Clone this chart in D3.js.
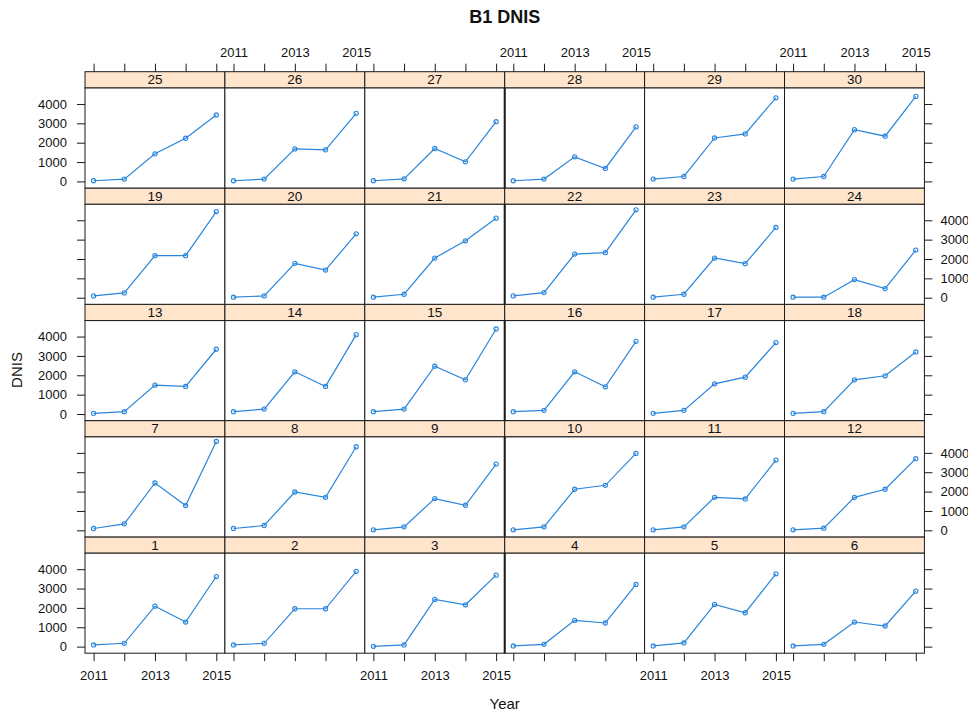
<!DOCTYPE html>
<html>
<head>
<meta charset="utf-8">
<script src="https://cdn.jsdelivr.net/npm/d3@7"></script>
<style>
  body { margin: 0; background: #fff; }
  svg { display: block; }
</style>
</head>
<body>
<svg id="chart" width="968" height="715"></svg>
<script>
// ---- data ----------------------------------------------------------------
const panelIds = d3.range(1, 31);                 // conditioning levels 1..30
const years = [2011, 2012, 2013, 2014, 2015];

// DNIS per panel, one row per level (same order as panelIds)
const dnis = [
  [86, 172, 2090, 1270, 3620],   // 1
  [86, 172, 1955, 1955, 3890],   // 2
  [17, 86, 2440, 2160, 3690],    // 3
  [34, 120, 1355, 1220, 3210],   // 4
  [34, 190, 2180, 1750, 3760],   // 5
  [34, 120, 1270, 1065, 2865],   // 6
  [94, 335, 2445, 1280, 4590],   // 7
  [94, 250, 1980, 1705, 4315],   // 8
  [26, 180, 1640, 1295, 3420],   // 9
  [26, 180, 2120, 2325, 3970],   // 10
  [26, 180, 1705, 1620, 3630],   // 11
  [26, 110, 1705, 2120, 3700],   // 12
  [34, 120, 1490, 1425, 3345],   // 13
  [120, 255, 2180, 1425, 4100],  // 14
  [120, 255, 2470, 1765, 4390],  // 15
  [120, 190, 2180, 1405, 3755],  // 16
  [34, 190, 1560, 1905, 3690],   // 17
  [34, 120, 1765, 1975, 3205],   // 18
  [94, 250, 2170, 2170, 4450],   // 19
  [26, 94, 1775, 1430, 3300],    // 20
  [26, 180, 2050, 2940, 4110],   // 21
  [94, 265, 2255, 2325, 4540],   // 22
  [26, 180, 2050, 1760, 3630],   // 23
  [26, 26, 935, 470, 2460],      // 24
  [34, 120, 1425, 2230, 3430],   // 25
  [34, 120, 1680, 1630, 3515],   // 26
  [34, 135, 1700, 1010, 3085],   // 27
  [34, 120, 1270, 670, 2815],    // 28
  [120, 255, 2245, 2455, 4320],  // 29
  [120, 255, 2675, 2335, 4390]   // 30
];

const yTicks = [0, 1000, 2000, 3000, 4000];
const xTicks = years;
const xTickLabels = ["2011", "", "2013", "", "2015"];

const titleText = "B1 DNIS";
const xLabelText = "Year";
const yLabelText = "DNIS";

// ---- layout --------------------------------------------------------------
const W = 968, H = 715;
const nCols = 6, nRows = 5;
const gridLeft = 85, gridTop = 71.7;
const panelW = 139.9;
const rowH = 116.3;
const stripH = 16.3;
const panelH = rowH - stripH;
const font = "'Liberation Sans', Arial, Helvetica, sans-serif";
const lineCol = "#2a86dc";
const stripCol = "#ffe5cc";
const frameCol = "#1a1a1a";
const tickLen = 8;

const svg = d3.select("#chart");
svg.append("rect").attr("width", W).attr("height", H).attr("fill", "#fff");

const x = d3.scaleLinear().domain([2010.72, 2015.28]).range([0, panelW]);
const y = d3.scaleLinear().domain([-340, 4825]).range([panelH, 0]);

const line = d3.line()
  .x((d, i) => x(years[i]))
  .y(d => y(d));

function styleAxis(g) {
  g.select(".domain").remove();
  g.selectAll(".tick line").attr("stroke", frameCol);
  g.selectAll("text")
    .attr("fill", "#111")
    .style("font-family", font)
    .style("font-size", "13px");
  g.attr("font-family", null).attr("font-size", null);
}

// ---- panels ----------------------------------------------------------------
panelIds.forEach((id, k) => {
  const col = k % nCols;
  const rowFromBottom = Math.floor(k / nCols);
  const row = nRows - 1 - rowFromBottom;        // screen row, 0 = top
  const gx = gridLeft + col * panelW;
  const gy = gridTop + row * rowH;
  const g = svg.append("g").attr("transform", `translate(${gx},${gy})`);

  // strip
  g.append("rect")
    .attr("width", panelW).attr("height", stripH)
    .attr("fill", stripCol).attr("stroke", frameCol).attr("stroke-width", 1);
  g.append("text")
    .attr("x", panelW / 2).attr("y", stripH / 2 + 4.6)
    .attr("text-anchor", "middle")
    .style("font-family", font).style("font-size", "13.5px")
    .attr("fill", "#111")
    .text(id);

  // panel
  const p = g.append("g").attr("transform", `translate(0,${stripH})`);
  p.append("rect")
    .attr("width", panelW).attr("height", panelH)
    .attr("fill", "#fff").attr("stroke", frameCol).attr("stroke-width", 1);

  const vals = dnis[k];
  p.append("path")
    .datum(vals)
    .attr("d", line)
    .attr("fill", "none")
    .attr("stroke", lineCol)
    .attr("stroke-width", 1.2);
  p.selectAll("circle")
    .data(vals)
    .join("circle")
    .attr("cx", (d, i) => x(years[i]))
    .attr("cy", d => y(d))
    .attr("r", 2.1)
    .attr("fill", "none")
    .attr("stroke", lineCol)
    .attr("stroke-width", 1.1);

  // left axis: ticks on every row, labels on alternating rows
  if (col === 0) {
    const showLab = row % 2 === 0;
    p.append("g")
      .call(d3.axisLeft(y).tickValues(yTicks).tickSize(tickLen).tickPadding(10)
        .tickFormat(showLab ? d3.format("d") : () => ""))
      .call(styleAxis);
  }
  // right axis
  if (col === nCols - 1) {
    const showLab = row % 2 === 1;
    p.append("g")
      .attr("transform", `translate(${panelW},0)`)
      .call(d3.axisRight(y).tickValues(yTicks).tickSize(tickLen).tickPadding(8)
        .tickFormat(showLab ? d3.format("d") : () => ""))
      .call(styleAxis);
  }
  // top axis (above the strips)
  if (row === 0) {
    const showLab = col % 2 === 1;
    g.append("g")
      .call(d3.axisTop(x).tickValues(xTicks).tickSize(tickLen).tickPadding(7)
        .tickFormat((d, i) => showLab ? xTickLabels[i] : ""))
      .call(styleAxis);
  }
  // bottom axis
  if (row === nRows - 1) {
    const showLab = col % 2 === 0;
    p.append("g")
      .attr("transform", `translate(0,${panelH})`)
      .call(d3.axisBottom(x).tickValues(xTicks).tickSize(tickLen).tickPadding(10)
        .tickFormat((d, i) => showLab ? xTickLabels[i] : ""))
      .call(styleAxis);
  }
});

// heavier rule between the third and fourth columns
for (let r = 0; r < nRows; r++) {
  svg.append("line")
    .attr("x1", gridLeft + 3 * panelW).attr("x2", gridLeft + 3 * panelW)
    .attr("y1", gridTop + r * rowH + stripH).attr("y2", gridTop + (r + 1) * rowH)
    .attr("stroke", frameCol).attr("stroke-width", 2);
}

// ---- titles ----------------------------------------------------------------
const cx = gridLeft + nCols * panelW / 2;
svg.append("text")
  .attr("x", cx).attr("y", 22.7)
  .attr("text-anchor", "middle")
  .style("font-family", font).style("font-size", "18px").style("font-weight", "bold")
  .attr("fill", "#111")
  .text(titleText);

svg.append("text")
  .attr("x", cx).attr("y", 708.6)
  .attr("text-anchor", "middle")
  .style("font-family", font).style("font-size", "15px")
  .attr("fill", "#111")
  .text(xLabelText);

svg.append("text")
  .attr("transform", "translate(22,370) rotate(-90)")
  .attr("text-anchor", "middle")
  .style("font-family", font).style("font-size", "15px")
  .attr("fill", "#111")
  .text(yLabelText);
</script>
</body>
</html>
